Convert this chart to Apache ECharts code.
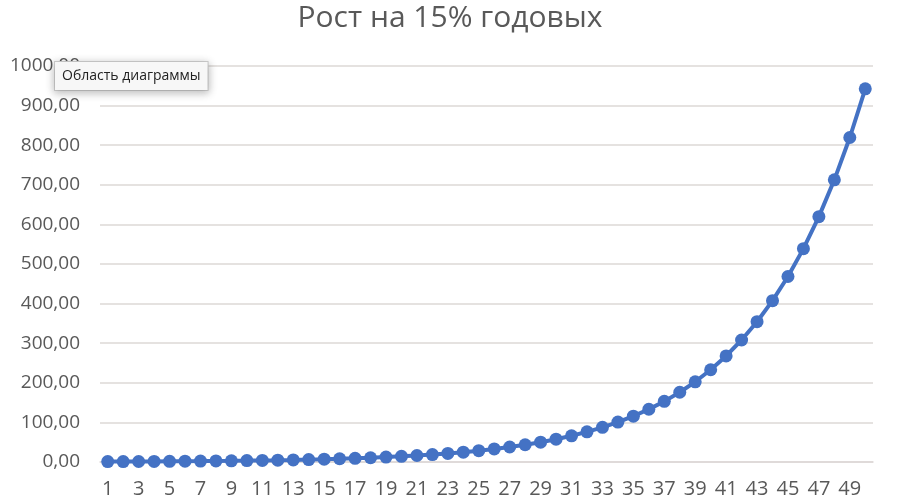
<!DOCTYPE html>
<html><head><meta charset="utf-8">
<script src="https://cdn.jsdelivr.net/npm/echarts@6/dist/echarts.min.js"></script>
<style>html,body{margin:0;padding:0;background:#fff}#c{width:900px;height:503px}</style>
</head><body><div id="c"></div>
<script>
const chartTitle = "Рост на 15% годовых";
const tooltipText = "Область диаграммы";
const years = Array.from({length: 50}, (_, i) => String(i + 1));
const values = [1.00, 1.15, 1.32, 1.52, 1.75, 2.01, 2.31, 2.66, 3.06, 3.52,
  4.05, 4.65, 5.35, 6.15, 7.08, 8.14, 9.36, 10.76, 12.38, 14.23,
  16.37, 18.82, 21.64, 24.89, 28.63, 32.92, 37.86, 43.54, 50.07, 57.58,
  66.21, 76.14, 87.57, 100.70, 115.80, 133.18, 153.15, 176.12, 202.54, 232.92,
  267.86, 308.04, 354.25, 407.39, 468.50, 538.77, 619.58, 712.52, 819.40, 942.31];

const chart = echarts.init(document.getElementById('c'));
chart.setOption({
  animation: false,
  backgroundColor: '#fff',
  title: {
    text: chartTitle, left: 'center', top: -2,
    textStyle: {fontFamily: 'Open Sans', fontSize: 30, fontWeight: 'normal', color: '#595959'}
  },
  grid: {left: 100, right: 27, top: 66, bottom: 41},
  xAxis: {
    type: 'category', data: years, boundaryGap: true,
    axisLine: {show: true, lineStyle: {color: '#ddd8d6', width: 1.5}},
    axisTick: {show: false},
    axisLabel: {interval: 1, color: '#595959', fontFamily: 'Open Sans', fontSize: 20, margin: 17}
  },
  yAxis: {
    type: 'value', min: 0, max: 1000, interval: 100,
    axisLine: {show: false}, axisTick: {show: false},
    splitLine: {lineStyle: {color: '#ddd8d6', width: 1.5}},
    axisLabel: {
      color: '#595959', fontFamily: 'Open Sans', fontSize: 19, margin: 20,
      formatter: v => v.toFixed(2).replace('.', ',')
    }
  },
  series: [{
    type: 'line', data: values, smooth: false,
    symbol: 'circle', symbolSize: 13, showAllSymbol: true,
    lineStyle: {color: '#4472C4', width: 4},
    itemStyle: {color: '#4472C4'}
  }],
  graphic: [{
    type: 'text', left: 54, top: 61, z: 100,
    style: {
      text: tooltipText, fontFamily: 'Open Sans', fontSize: 14, fill: '#222',
      backgroundColor: '#f7f7f7', padding: [7, 7, 7, 7],
      borderColor: '#d0d0d0', borderWidth: 1,
      shadowBlur: 8, shadowColor: 'rgba(0,0,0,0.25)', shadowOffsetY: 2
    }
  }]
});
</script></body></html>
